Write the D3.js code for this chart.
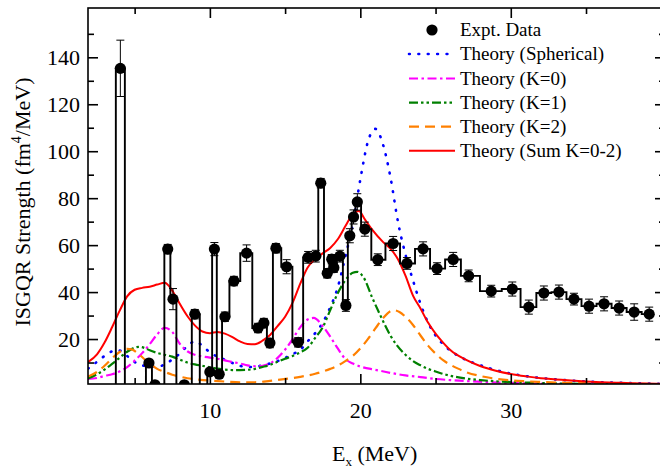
<html lang="en">
<head>
<meta charset="UTF-8">
<title>ISGQR strength</title>
<script src="https://d3js.org/d3.v7.min.js"></script>
<style>
  body { margin: 0; background: #fff; }
  svg text { font-family: "Liberation Serif", "Times New Roman", serif; fill: #000; }
</style>
</head>
<body>
<svg id="chart" width="660" height="470"></svg>
<script>
// experimental points (E in MeV, strength, error); negative values lie below the axis
const expE = [3.45, 4.05, 4.65, 5.15, 5.55, 5.95, 6.35, 6.75, 7.2, 7.55, 8.0, 8.3, 8.6, 9.0, 9.66,
  10.0, 10.3, 10.62, 11.0, 11.6, 12.44, 13.2, 13.59, 13.99, 14.39, 15.1, 15.87, 16.53, 17.04, 17.37,
  17.8, 18.1, 18.24, 18.64, 19.04, 19.3, 19.55, 19.8, 20.3, 21.16, 22.18, 23.1, 24.17, 25.1, 26.17,
  27.2, 28.7, 30.1, 31.2, 32.2, 33.2, 34.2, 35.2, 36.2, 37.2, 38.2, 39.2];
const expS = [-6, 135.3, -6, -6, -6, 9.8, 0.5, -6, 58.3, 37, -6, 0.5, -6, 30.6, -6,
  6, 58.3, 5, 29.5, 44.7, 56.6, 24.7, 26.8, 18.3, 58.7, 50.8, 18.6, 54.8, 55.3, 86.4,
  48, 54, 50.4, 55.3, 34.3, 64, 72, 78.4, 66.8, 53.8, 60.7, 52.2, 58.4, 50, 53.9,
  46.9, 40.4, 41.3, 33.6, 39.6, 40, 37, 34, 35, 33.2, 31.5, 30.6];
const expErr = [0, 12, 0, 0, 0, 1.5, 0, 0, 2, 4.5, 0, 0, 0, 2, 0,
  1.5, 2.8, 1.5, 2, 2, 3.5, 2, 2, 2, 2, 3, 2, 2.5, 2.5, 2,
  2, 2, 2, 2.5, 2.5, 3, 3, 3.5, 3, 2.5, 3, 2.5, 3, 2.5, 3,
  2.5, 2.5, 3, 3, 3, 3, 2.5, 3, 3, 3, 3.5, 3];

// theory curves
const sphE = [1.9, 2.5, 3, 3.5, 3.85, 4.2, 4.5, 5, 5.5, 6, 6.5, 7, 7.5, 8, 8.5, 9, 9.5, 10, 10.5, 11, 11.5,
  12, 12.5, 13, 13.5, 14, 14.5, 15, 15.5, 16, 16.5, 17, 17.5, 18, 18.5, 19, 19.5, 20, 20.5, 21, 21.5,
  22, 22.5, 23, 23.5, 24, 24.5, 25, 25.5, 26, 27, 28, 29, 30, 31, 32, 33, 34, 35, 36, 37, 38, 40.2];
const sphS = [7.4, 10.3, 12.8, 14.8, 15.3, 14.5, 12.8, 10.2, 8.8, 8.3, 8.2, 9.2, 11.3, 13.8, 17, 19, 17.2, 14.3, 12.5, 11.2, 9.8,
  8.6, 8.1, 8.2, 8.8, 9.6, 10.6, 12, 13.6, 15.3, 19, 22.5, 27, 33.5, 42, 55, 69, 88, 104, 109.5, 103,
  89, 70, 56, 45, 35, 27, 21.5, 17.8, 15, 11.2, 8.8, 6.8, 5.3, 4.2, 3.4, 2.8, 2.3, 1.9, 1.6, 1.4, 1.2, 0.9];

const k0E = [1.9, 2.5, 3, 3.5, 4, 4.5, 5, 5.5, 6, 6.5, 7, 7.5, 8, 8.5, 9, 9.5, 10, 10.5, 11, 11.5, 12, 12.5,
  13, 13.5, 14, 14.5, 15, 15.5, 16, 16.5, 16.9, 17.5, 18, 18.5, 19, 19.5, 20, 21, 22, 23, 24, 25, 26, 27,
  28, 30, 33, 36, 40.2];
const k0S = [3, 3.4, 4.3, 5, 6.2, 8, 10.8, 14, 17.8, 22, 24.8, 23, 18, 14.8, 13.3, 12.6, 12.1, 11.6, 10.9, 10.2, 9.6, 8.8,
  8.4, 8.6, 9.6, 12, 15.5, 20, 25, 28.3, 29, 25.5, 21, 16, 11.5, 9.6, 8.3, 6.9, 5.6, 4.5, 3.8, 3, 2.5, 2.1,
  1.8, 1.3, 0.9, 0.6, 0.5];

const k1E = [1.9, 2.5, 3, 3.5, 4, 4.5, 5, 5.3, 5.7, 6, 6.5, 7, 7.5, 8, 8.5, 9, 9.5, 10, 10.5, 11, 11.5, 12,
  12.5, 13, 13.5, 14, 14.5, 15, 15.5, 16, 16.5, 17, 17.5, 18, 18.5, 19, 19.5, 19.8, 20.2, 20.8, 21.3, 22,
  22.4, 23, 23.5, 24, 24.5, 25, 25.7, 27, 28, 29, 30, 31.3, 33, 36, 40.2];
const k1S = [3.2, 5, 7, 9.4, 12, 14.6, 16.3, 16.7, 16.1, 15.2, 14.1, 13.3, 12.5, 11.2, 10, 9.2, 8.6, 8, 7.4, 7, 6.8, 6.8,
  6.9, 7.3, 8.1, 9, 10.3, 11.6, 12.8, 14.3, 16.3, 20.5, 25, 32.3, 39.5, 45, 48.2, 48.6, 46.4, 37.5, 30.5, 21.5,
  17.6, 13.3, 10.6, 8.8, 7.3, 6.2, 4.8, 3.2, 2.5, 2, 1.7, 1.4, 1.1, 0.8, 0.6];

const k2E = [1.9, 2.5, 3, 3.5, 4, 4.5, 4.8, 5.2, 5.6, 6, 6.5, 7, 7.5, 8, 8.5, 9, 10, 11, 12, 13, 14, 15, 16,
  17, 18, 18.5, 19, 19.5, 20, 20.5, 21, 21.5, 22.2, 22.6, 23, 23.5, 24, 24.5, 25, 25.5, 26, 26.5, 27, 28,
  29, 30, 31, 32, 34, 36, 40.2];
const k2S = [4, 6, 8.6, 11.8, 14.5, 15.8, 15.6, 14, 11.7, 9.6, 7.3, 6, 4.8, 4, 3.3, 2.9, 2.3, 1.9, 1.6, 1.6, 2.2, 3, 3.9,
  5.2, 7.3, 8.7, 10.6, 12.8, 16, 20, 24.5, 28.8, 32.3, 31.5, 29.5, 26, 21.5, 17.2, 13.8, 11, 9, 7.4, 6, 4.2,
  3.1, 2.4, 2, 1.7, 1.3, 1.1, 0.8];

const sumE = [1.9, 2.5, 3, 3.5, 4, 4.5, 5, 5.5, 6, 6.5, 7, 7.3, 7.7, 8, 8.5, 9, 9.5, 10, 10.5, 11, 11.5, 12,
  12.5, 13, 13.5, 14, 14.5, 15, 15.5, 16, 16.5, 17, 17.5, 18, 18.5, 19, 19.5, 19.9, 20.3, 20.8, 21.5, 22,
  22.5, 23, 23.5, 24, 24.5, 25, 25.5, 26, 27, 28, 29, 30, 31, 32, 33, 34, 35, 36, 37, 38, 40.2];
const sumS = [10.2, 13.5, 18.5, 25, 32, 38.2, 41, 41.8, 42.3, 43.2, 44, 42.5, 38.5, 35, 29.8, 25.8, 23.2, 22.5, 23, 22.3, 20.8, 19,
  17.9, 17.8, 19.3, 21.7, 25.5, 29.5, 35.5, 43.5, 50.5, 54, 56.5, 58.8, 62.5, 68, 73.2, 74.5, 71, 66.5, 61.4, 58.5,
  54, 47, 38.5, 33, 27, 22.3, 18.5, 15.2, 11.2, 8.4, 6.5, 5.1, 4.1, 3.3, 2.8, 2.3, 1.9, 1.6, 1.4, 1.2, 0.9];

const xMajor = [10, 20, 30], xMinor = [5, 15, 25, 35];
const yMajor = [20, 40, 60, 80, 100, 120, 140], yMinor = [10, 30, 50, 70, 90, 110, 130, 150];

const legendLabels = ["Expt. Data", "Theory (Spherical)", "Theory (K=0)", "Theory (K=1)", "Theory (K=2)", "Theory (Sum K=0-2)"];

let svg = d3.select('#chart');
let pLeft = 88, pRight = 665, pTop = 8, pBottom = 384;
let x = d3.scaleLinear().domain([1.9, 40.25]).range([pLeft, pRight]);
let y = d3.scaleLinear().domain([0.85, 161]).range([pBottom, pTop]);

svg.append('defs').append('clipPath').attr('id', 'clip')
  .append('rect').attr('x', pLeft).attr('y', pTop).attr('width', pRight - pLeft).attr('height', pBottom - pTop);

let plot = svg.append('g').attr('clip-path', 'url(#clip)');

// theory curves
let curves = [
  {E: sphE, S: sphS, color: '#0000ff', dash: '0.8,8.6', cap: 'round', w: 2.6},
  {E: k0E, S: k0S, color: '#ff00ff', dash: '9,3.5,2.5,3.5', cap: 'butt', w: 2.2},
  {E: k1E, S: k1S, color: '#008000', dash: '9,3,2.5,3,2.5,3', cap: 'butt', w: 2.2},
  {E: k2E, S: k2S, color: '#ff8000', dash: '10,6', cap: 'butt', w: 2.2},
  {E: sumE, S: sumS, color: '#ff0000', dash: null, cap: 'butt', w: 2}
];
let curveLine = d3.line().x(d => x(d[0])).y(d => y(d[1])).curve(d3.curveMonotoneX);
curves.forEach(c => {
  plot.append('path')
    .attr('d', curveLine(d3.zip(c.E, c.S)))
    .attr('fill', 'none').attr('stroke', c.color).attr('stroke-width', c.w)
    .attr('stroke-linecap', c.cap)
    .attr('stroke-dasharray', c.dash);
});

// experimental step histogram
let expData = expE.map((e, i) => ({e: e, s: expS[i], err: expErr[i]}));
let stepLine = d3.line().x(d => x(d.e)).y(d => y(d.s)).curve(d3.curveStep);
plot.append('path').attr('d', stepLine(expData))
  .attr('fill', 'none').attr('stroke', '#000').attr('stroke-width', 1.9);

// error bars
let eb = plot.append('g').attr('stroke', '#000').attr('stroke-width', 1);
expData.filter(d => d.err > 0).forEach(d => {
  eb.append('line').attr('x1', x(d.e)).attr('x2', x(d.e)).attr('y1', y(d.s - d.err)).attr('y2', y(d.s + d.err));
  eb.append('line').attr('x1', x(d.e) - 4).attr('x2', x(d.e) + 4).attr('y1', y(d.s - d.err)).attr('y2', y(d.s - d.err));
  eb.append('line').attr('x1', x(d.e) - 4).attr('x2', x(d.e) + 4).attr('y1', y(d.s + d.err)).attr('y2', y(d.s + d.err));
});

plot.selectAll('circle.pt').data(expData).enter().append('circle')
  .attr('class', 'pt').attr('cx', d => x(d.e)).attr('cy', d => y(d.s)).attr('r', 5.6).attr('fill', '#000');

// frame and ticks
svg.append('rect').attr('x', pLeft).attr('y', pTop).attr('width', pRight - pLeft).attr('height', pBottom - pTop)
  .attr('fill', 'none').attr('stroke', '#000').attr('stroke-width', 1.6);

function styleAxis(g) {
  g.select('.domain').remove();
  g.selectAll('line').attr('stroke', '#000').attr('stroke-width', 1.6);
  g.selectAll('text').attr('font-size', 22).attr('font-family', '"Liberation Serif", serif');
}
svg.append('g').attr('transform', `translate(0,${pBottom})`)
  .call(d3.axisBottom(x).tickValues(xMajor).tickSize(-10).tickPadding(18).tickFormat(d3.format('d'))).call(styleAxis);
svg.append('g').attr('transform', `translate(0,${pBottom})`)
  .call(d3.axisBottom(x).tickValues(xMinor).tickSize(-6).tickFormat('')).call(styleAxis);
svg.append('g').attr('transform', `translate(0,${pTop})`)
  .call(d3.axisTop(x).tickValues(xMajor).tickSize(-10).tickFormat('')).call(styleAxis);
svg.append('g').attr('transform', `translate(0,${pTop})`)
  .call(d3.axisTop(x).tickValues(xMinor).tickSize(-6).tickFormat('')).call(styleAxis);
svg.append('g').attr('transform', `translate(${pLeft},0)`)
  .call(d3.axisLeft(y).tickValues(yMajor).tickSize(-10).tickPadding(8).tickFormat(d3.format('d'))).call(styleAxis);
svg.append('g').attr('transform', `translate(${pLeft},0)`)
  .call(d3.axisLeft(y).tickValues(yMinor).tickSize(-6).tickFormat('')).call(styleAxis);
svg.append('g').attr('transform', `translate(${pRight},0)`)
  .call(d3.axisRight(y).tickValues(yMajor).tickSize(-10).tickFormat('')).call(styleAxis);
svg.append('g').attr('transform', `translate(${pRight},0)`)
  .call(d3.axisRight(y).tickValues(yMinor).tickSize(-6).tickFormat('')).call(styleAxis);

// axis titles
let xt = svg.append('text').attr('x', 332).attr('y', 461).attr('font-size', 22);
xt.append('tspan').text('E');
xt.append('tspan').attr('font-size', 13).attr('dy', 5).text('x');
xt.append('tspan').attr('dy', -5).text(' (MeV)');

let yt = svg.append('text').attr('transform', 'translate(30,202) rotate(-90)')
  .attr('text-anchor', 'middle').attr('font-size', 22);
yt.append('tspan').text('ISGQR Strength (fm');
yt.append('tspan').attr('font-size', 14).attr('dy', -9).text('4');
yt.append('tspan').attr('dy', 9).text('/MeV)');

// legend
let legend = svg.append('g');
let legendY = [30, 54, 78.5, 102.7, 126.7, 150.7];
legendLabels.forEach((lab, i) => {
  let ly = legendY[i];
  if (i === 0) {
    legend.append('circle').attr('cx', 432).attr('cy', ly).attr('r', 5.6).attr('fill', '#000');
  } else {
    let c = curves[i - 1];
    legend.append('line').attr('x1', 409).attr('x2', 455).attr('y1', ly).attr('y2', ly)
      .attr('stroke', c.color).attr('stroke-width', c.w).attr('stroke-linecap', c.cap)
      .attr('stroke-dasharray', c.dash);
  }
  legend.append('text').attr('x', 460).attr('y', ly).attr('dy', '0.33em').attr('font-size', 19).text(lab);
});
</script>
</body>
</html>
